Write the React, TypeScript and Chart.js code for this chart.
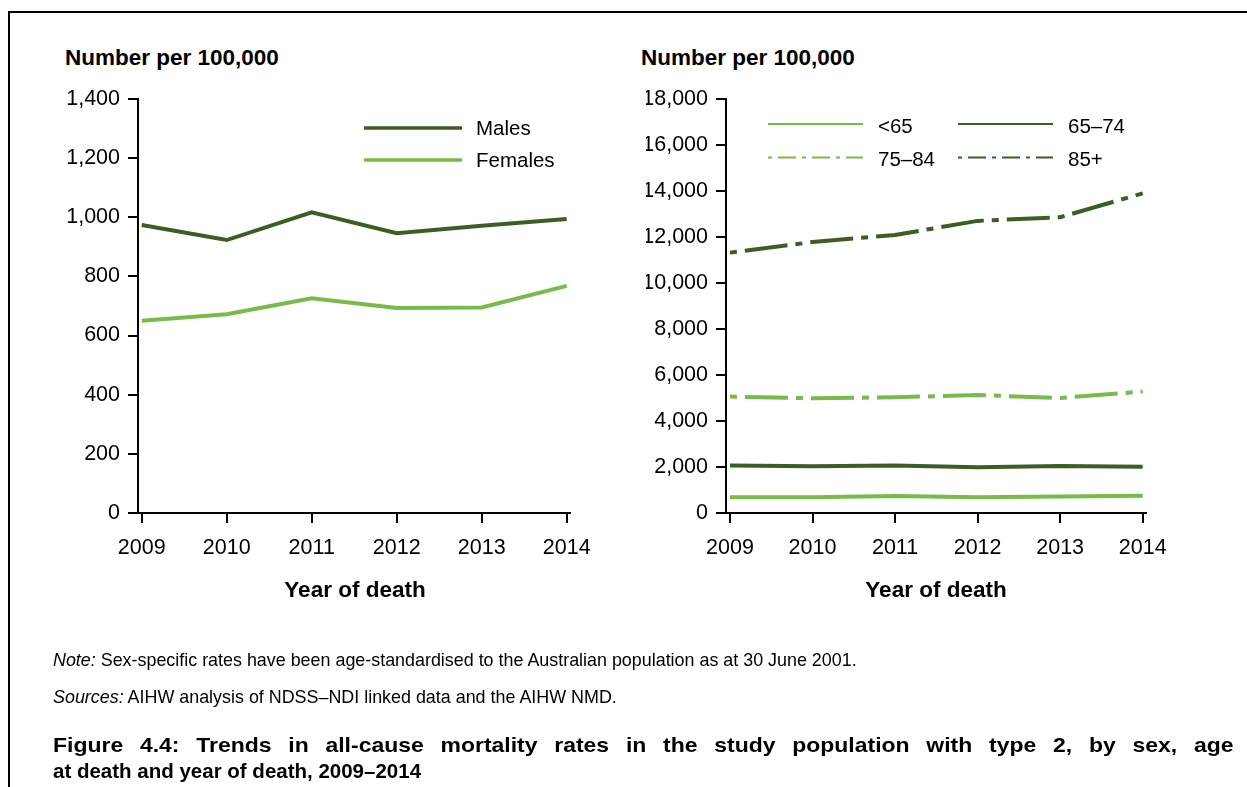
import React, { useEffect, useRef } from "react";
import { Chart, registerables } from "chart.js";

Chart.register(...registerables);

// ---------- data ----------
const years = [2009, 2010, 2011, 2012, 2013, 2014];
const sexLabels = ["Males", "Females"];
const males = [974, 923, 1017, 946, 971, 994];
const females = [650, 672, 726, 693, 695, 768];
const ageLabels = ["<65", "65–74", "75–84", "85+"];
const ageUnder65 = [680, 680, 740, 680, 720, 750];
const age65to74 = [2060, 2030, 2070, 1990, 2040, 2010];
const age75to84 = [5060, 4990, 5030, 5130, 5000, 5280];
const age85plus = [11320, 11780, 12090, 12700, 12860, 13900];
const leftYMax = 1400;
const leftYStep = 200;
const rightYMax = 18000;
const rightYStep = 2000;

// ---------- style ----------
const DARK = "#3b5f22";
const LIGHT = "#7aba4a";
const FONT = "'Liberation Sans', Arial, Helvetica, sans-serif";
const LINE_DASH = [7, 8, 43, 8];
const LEGEND_DASH = [4, 6, 18, 6];

Chart.defaults.font.family = FONT;

const legendPlugin = {
  id: "customLegend",
  afterDraw(chart: any, _args: any, opts: any) {
    const ctx = chart.ctx;
    (opts.items || []).forEach((it: any) => {
      const ds = chart.data.datasets[it.index];
      ctx.save();
      ctx.strokeStyle = ds.borderColor;
      ctx.lineWidth = opts.lineWidth;
      ctx.lineCap = "butt";
      ctx.setLineDash(ds.borderDash && ds.borderDash.length ? opts.dash : []);
      ctx.beginPath();
      ctx.moveTo(it.x, it.y);
      ctx.lineTo(it.x + opts.len, it.y);
      ctx.stroke();
      ctx.setLineDash([]);
      ctx.fillStyle = "#000";
      ctx.font = `${opts.fontSize}px ${FONT}`;
      ctx.textBaseline = "middle";
      ctx.textAlign = "left";
      ctx.fillText(ds.label, it.x + opts.len + opts.gap, it.y + opts.textDy);
      ctx.restore();
    });
  },
};

function series(label: string, values: number[], color: string, dashed: boolean) {
  return {
    label,
    data: years.map((yr, i) => ({ x: yr, y: values[i] })),
    borderColor: color,
    backgroundColor: color,
    borderWidth: 4,
    borderDash: dashed ? LINE_DASH : [],
    pointRadius: 0,
    tension: 0,
    fill: false,
  };
}

function makeOptions(
  yMax: number,
  yStep: number,
  xMin: number,
  xMax: number,
  padding: any,
  legend: any
) {
  const gridStyle = {
    display: true,
    drawOnChartArea: false,
    drawTicks: true,
    tickLength: 10,
    color: "#000",
    lineWidth: 2,
  };
  const border = { display: true, color: "#000", width: 2 };
  return {
    responsive: false,
    animation: false as const,
    events: [],
    layout: { padding },
    plugins: {
      legend: { display: false },
      tooltip: { enabled: false },
      customLegend: legend,
    },
    scales: {
      x: {
        type: "linear" as const,
        min: xMin,
        max: xMax,
        afterBuildTicks: (s: any) => {
          s.ticks = years.map((v) => ({ value: v }));
        },
        afterFit: (s: any) => {
          s.height = 60;
        },
        ticks: {
          callback: (v: any) => String(v),
          color: "#000",
          font: { size: 21.5 },
          padding: 12,
          maxRotation: 0,
          autoSkip: false,
        },
        grid: gridStyle,
        border,
      },
      y: {
        min: 0,
        max: yMax,
        afterFit: (s: any) => {
          s.width = 80;
        },
        ticks: {
          stepSize: yStep,
          color: "#000",
          font: { size: 21.5 },
          padding: 8,
          callback: (v: any) => Number(v).toLocaleString("en-US"),
        },
        grid: gridStyle,
        border,
      },
    },
  };
}

function LineChart(props: { width: number; left: number; build: () => any }) {
  const ref = useRef<HTMLCanvasElement | null>(null);
  useEffect(() => {
    if (!ref.current) return;
    const chart = new Chart(ref.current, props.build());
    return () => chart.destroy();
  }, []);
  return (
    <canvas
      ref={ref}
      width={props.width}
      height={787}
      style={{ position: "absolute", left: props.left, top: 0, width: props.width, height: 787 }}
    />
  );
}

const buildLeft = () => ({
  type: "line",
  data: {
    datasets: [
      series(sexLabels[0], males, DARK, false),
      series(sexLabels[1], females, LIGHT, false),
    ],
  },
  options: makeOptions(
    leftYMax,
    leftYStep,
    2008.956,
    2014.039,
    { left: 58, right: 70, top: 99, bottom: 214 },
    {
      items: [
        { index: 0, x: 364, y: 128 },
        { index: 1, x: 364, y: 160 },
      ],
      len: 98,
      gap: 14,
      lineWidth: 3.4,
      dash: LEGEND_DASH,
      fontSize: 20.5,
      textDy: 1.5,
    }
  ),
  plugins: [legendPlugin],
});

const buildRight = () => ({
  type: "line",
  data: {
    datasets: [
      series(ageLabels[0], ageUnder65, LIGHT, false),
      series(ageLabels[1], age65to74, DARK, false),
      series(ageLabels[2], age75to84, LIGHT, true),
      series(ageLabels[3], age85plus, DARK, true),
    ],
  },
  options: makeOptions(
    rightYMax,
    rightYStep,
    2008.952,
    2014.04,
    { left: 26, right: 101, top: 99, bottom: 214 },
    {
      items: [
        { index: 0, x: 148, y: 124 },
        { index: 1, x: 338, y: 124 },
        { index: 2, x: 148, y: 157.5 },
        { index: 3, x: 338, y: 157.5 },
      ],
      len: 95,
      gap: 15,
      lineWidth: 2.2,
      dash: LEGEND_DASH,
      fontSize: 20.5,
      textDy: 3,
    }
  ),
  plugins: [legendPlugin],
});

const txt = (
  left: number,
  centerY: number,
  size: number,
  bold: boolean,
  content: React.ReactNode,
  extra: React.CSSProperties = {}
) => (
  <div
    style={{
      position: "absolute",
      left,
      top: centerY - size / 2,
      fontSize: size,
      lineHeight: `${size}px`,
      fontWeight: bold ? "bold" : "normal",
      fontFamily: FONT,
      color: "#000",
      whiteSpace: "nowrap",
      ...extra,
    }}
  >
    {content}
  </div>
);

export default function App() {
  return (
    <div
      style={{
        position: "absolute",
        left: 0,
        top: 0,
        width: 1247,
        height: 787,
        overflow: "hidden",
        background: "#fff",
      }}
    >
      <div
        style={{
          position: "absolute",
          left: 8,
          top: 11,
          width: 1400,
          height: 900,
          borderTop: "2px solid #000",
          borderLeft: "2px solid #000",
        }}
      />
      {txt(65, 58, 22.5, true, "Number per 100,000")}
      {txt(641, 58, 22.5, true, "Number per 100,000")}
      <LineChart width={640} left={0} build={buildLeft} />
      <LineChart width={627} left={620} build={buildRight} />
      {txt(355, 590, 22.5, true, "Year of death", { transform: "translateX(-50%)" })}
      {txt(936, 590, 22.5, true, "Year of death", { transform: "translateX(-50%)" })}
      {txt(
        53,
        661,
        17.9,
        false,
        <>
          <i>Note:</i> Sex-specific rates have been age-standardised to the Australian population as at 30 June
          2001.
        </>
      )}
      {txt(
        53,
        698,
        17.9,
        false,
        <>
          <i>Sources:</i> AIHW analysis of NDSS–NDI linked data and the AIHW NMD.
        </>
      )}
      {txt(
        53,
        745,
        20.5,
        true,
        "Figure 4.4: Trends in all-cause mortality rates in the study population with type 2, by sex, age",
        {
          width: 1054,
          textAlign: "justify",
          textAlignLast: "justify",
          whiteSpace: "normal",
          transform: "scaleX(1.12)",
          transformOrigin: "left center",
        }
      )}
      {txt(53, 771, 20.5, true, "at death and year of death, 2009–2014")}
    </div>
  );
}
